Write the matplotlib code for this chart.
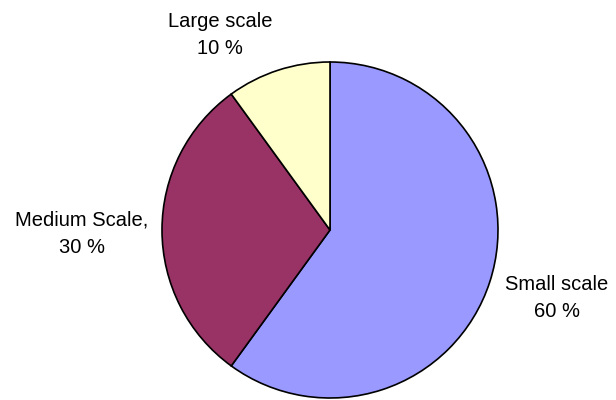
import matplotlib
matplotlib.use("Agg")
import matplotlib.pyplot as plt

labels = ["Small scale\n60 %", "Medium Scale,\n30 %", "Large scale\n10 %"]
values = [60, 30, 10]
colors = ["#9999FF", "#993366", "#FFFFCC"]
label_pos = [(557, 298), (82, 234), (220, 35)]

plt.rcParams['font.family'] = ['Liberation Sans', 'DejaVu Sans']
fig = plt.figure(figsize=(6.16, 4.0), dpi=100)
ax = fig.add_axes([0, 0, 1, 1])

# y axis inverted -> counterclock=True draws clockwise visually
ax.pie(values, colors=colors, startangle=-90, counterclock=True,
       center=(330, 230), radius=168, frame=True,
       wedgeprops=dict(edgecolor='black', linewidth=1.2))
ax.set_xlim(0, 616)
ax.set_ylim(400, 0)
ax.set_aspect('equal')
ax.axis('off')

for lab, (x, y) in zip(labels, label_pos):
    ax.text(x, y, lab, ha='center', va='center', fontsize=14.5, linespacing=1.55)

fig.savefig("out.png", dpi=100)
